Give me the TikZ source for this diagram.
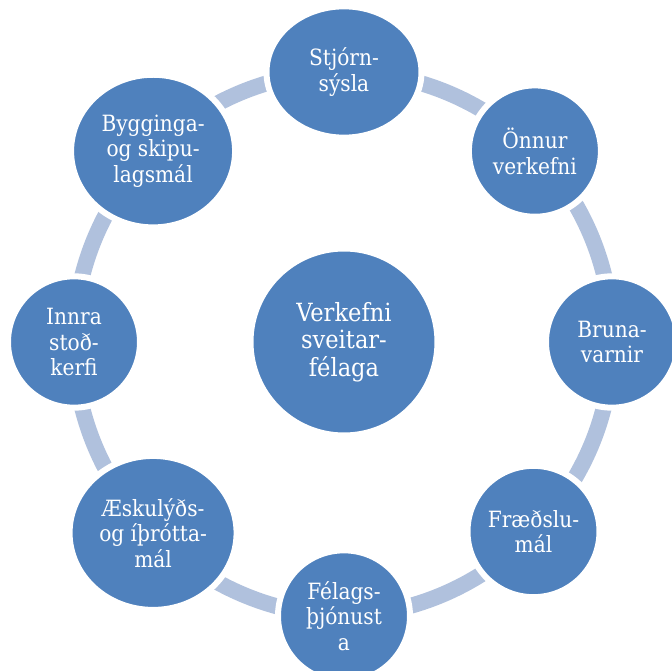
\documentclass[tikz,border=0pt]{standalone}
\usepackage{fontspec}
\setmainfont{DejaVu Serif Condensed}
\usepackage{xcolor}
\usetikzlibrary{shapes.geometric,backgrounds}
\definecolor{taskblue}{HTML}{4F81BD}
\definecolor{ringblue}{HTML}{B0C1DD}

\begin{document}
\begin{tikzpicture}[x=0.75pt,y=0.75pt,
	task/.style={ellipse,fill=taskblue,draw=white,line width=4.5pt,inner sep=0pt,text=white,align=center,
		font=\fontsize{16.8}{19.2}\selectfont,minimum width=99pt,minimum height=98.5pt},
	link/.style={draw=ringblue,line width=12pt,bend left=22.5,looseness=0.885}]
		\useasboundingbox (-344,-329) rectangle (328,342);
		\node[task,minimum size=140.25pt,font=\fontsize{18.8}{20.6}\selectfont] (verkefni) at (0,0) {Verkefni\\sveitar-\\félaga};
		\node[task,minimum width=116.25pt] (stjorn) at (90:270) {Stjórn-\\sýsla};
		\node[task] (onnur) at (45:270) {Önnur\\verkefni};
		\node[task] (bruna) at (0:268) {Bruna-\\varnir};
		\node[task] (fraedsla) at (-45:268) {Fræðslu-\\mál};
		\node[task] (felags) at (-90:274) {Félags-\\þjónust\\a};
		\node[task,minimum width=125.25pt,minimum height=115.5pt] (aeskulyds) at (-135:270) {Æskulýðs-\\og íþrótta-\\mál};
		\node[task] (innra) at (180:270) {Innra\\stoð-\\kerfi};
		\node[task,minimum width=123pt,minimum height=114.5pt] (bygging) at (135:270) {Bygginga-\\og skipu-\\lagsmál};

		\begin{scope}[on background layer]
		\draw	(stjorn.center) edge[link] (onnur.center)
				(onnur.center) edge[link] (bruna.center)
				(bruna.center) edge[link] (fraedsla.center)
				(fraedsla.center) edge[link] (felags.center)
				(felags.center) edge[link] (aeskulyds.center)
				(aeskulyds.center) edge[link] (innra.center)
				(innra.center) edge[link] (bygging.center)
				(bygging.center) edge[link] (stjorn.center);
		\end{scope}
	\end{tikzpicture}
\end{document}
